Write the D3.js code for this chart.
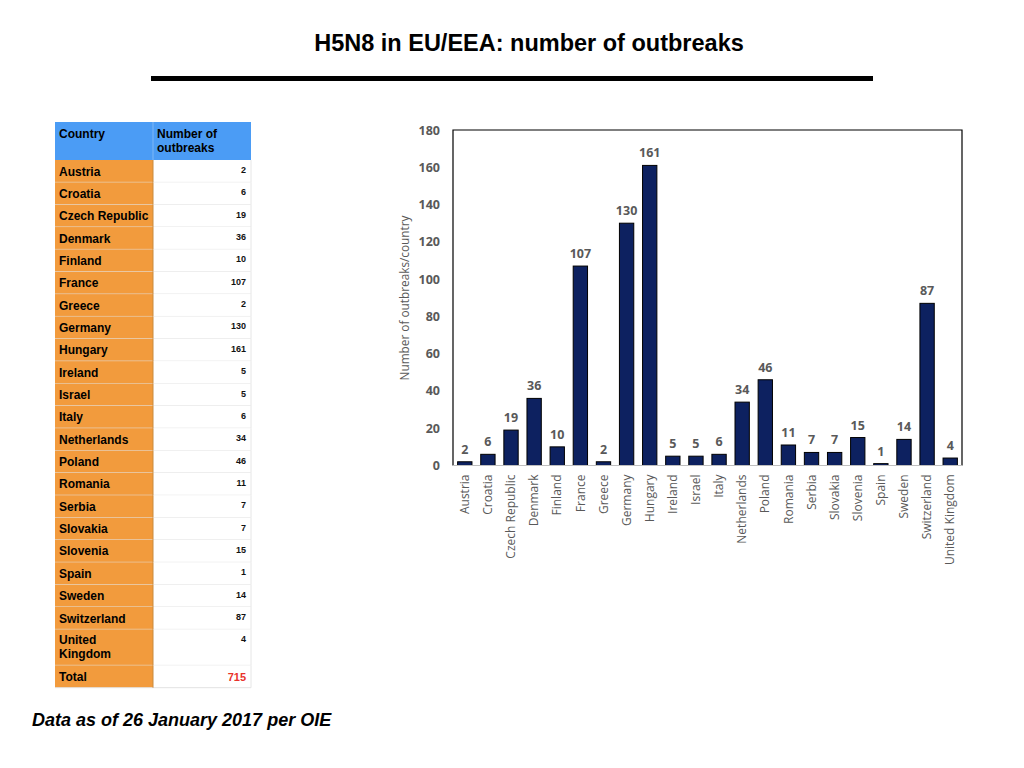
<!DOCTYPE html>
<html><head><meta charset="utf-8">
<script src="https://cdn.jsdelivr.net/npm/d3@7"></script>
<style>body{margin:0;background:#fff;} svg{display:block;}</style>
</head><body>
<svg id="c" width="1024" height="768"></svg>
<script>
const countries = ["Austria","Croatia","Czech Republic","Denmark","Finland","France","Greece","Germany","Hungary","Ireland","Israel","Italy","Netherlands","Poland","Romania","Serbia","Slovakia","Slovenia","Spain","Sweden","Switzerland","United Kingdom"];
const tableValues = [2,6,19,36,10,107,2,130,161,5,5,6,34,46,11,7,7,15,1,14,87,4];
const chartCategories = ["Austria","Croatia","Czech Republic","Denmark","Finland","France","Greece","Germany","Hungary","Ireland","Israel","Italy","Netherlands","Poland","Romania","Serbia","Slovakia","Slovenia","Spain","Sweden","Switzerland","United Kingdom"];
const chartValues = [2,6,19,36,10,107,2,130,161,5,5,6,34,46,11,7,7,15,1,14,87,4];
const yTicks = [0,20,40,60,80,100,120,140,160,180];
const totalLabel = "715";

(function(){
const svg = d3.select("#c");

// Title
svg.append("text").attr("x",529).attr("y",51).attr("text-anchor","middle")
  .attr("font-family","Liberation Sans, Arial, sans-serif").attr("font-weight","bold")
  .attr("font-size",23.5).attr("fill","#000").text("H5N8 in EU/EEA: number of outbreaks");
svg.append("rect").attr("x",151).attr("y",76).attr("width",722).attr("height",5).attr("fill","#000");

// Table
const tx0 = 55, tx1 = 153, tx2 = 251;
const headerTop = 122, headerBottom = 160;
const rowH = 22.35;
const tfont = "Liberation Sans, Arial, sans-serif";
const tg = svg.append("g");
tg.append("rect").attr("x",tx0).attr("y",headerTop).attr("width",tx2-tx0).attr("height",headerBottom-headerTop).attr("fill","#4b9cf5");
tg.append("line").attr("x1",tx1).attr("x2",tx1).attr("y1",headerTop).attr("y2",headerBottom).attr("stroke","#7fb8f7").attr("stroke-width",1);
tg.append("text").attr("x",tx0+4).attr("y",headerTop+16).attr("font-family",tfont).attr("font-weight","bold").attr("font-size",12).text("Country");
tg.append("text").attr("x",tx1+4).attr("y",headerTop+16).attr("font-family",tfont).attr("font-weight","bold").attr("font-size",12).text("Number of");
tg.append("text").attr("x",tx1+4).attr("y",headerTop+30).attr("font-family",tfont).attr("font-weight","bold").attr("font-size",12).text("outbreaks");

let yy = headerBottom;
const rows = countries.map((c,i)=>({name:c, value:String(tableValues[i]), total:false}));
rows.push({name:"Total", value:totalLabel, total:true});
rows.forEach(r=>{
  const two = r.name === "United Kingdom";
  const h = two ? 36 : rowH;
  tg.append("rect").attr("x",tx0).attr("y",yy).attr("width",tx1-tx0).attr("height",h).attr("fill","#f29b3d");
  tg.append("rect").attr("x",tx1).attr("y",yy).attr("width",tx2-tx1).attr("height",h).attr("fill","#fff");
  tg.append("line").attr("x1",tx0).attr("x2",tx2).attr("y1",yy+h).attr("y2",yy+h).attr("stroke","#e2e2e2").attr("stroke-width",1);
  tg.append("line").attr("x1",tx1).attr("x2",tx1).attr("y1",yy).attr("y2",yy+h).attr("stroke","#c98a3e").attr("stroke-width",1);
  tg.append("line").attr("x1",tx2).attr("x2",tx2).attr("y1",yy).attr("y2",yy+h).attr("stroke","#e6e6e6").attr("stroke-width",1);
  if(two){
    tg.append("text").attr("x",tx0+4).attr("y",yy+15).attr("font-family",tfont).attr("font-weight","bold").attr("font-size",12).text("United");
    tg.append("text").attr("x",tx0+4).attr("y",yy+29).attr("font-family",tfont).attr("font-weight","bold").attr("font-size",12).text("Kingdom");
  } else {
    tg.append("text").attr("x",tx0+4).attr("y",yy+15.5).attr("font-family",tfont).attr("font-weight","bold").attr("font-size",12).text(r.name);
  }
  if(r.total){
    tg.append("text").attr("x",tx2-5).attr("y",yy+15.5).attr("text-anchor","end").attr("font-family",tfont).attr("font-weight","bold").attr("font-size",11).attr("fill","#e8322b").text(r.value);
  } else {
    tg.append("text").attr("x",tx2-5).attr("y",yy+13).attr("text-anchor","end").attr("font-family",tfont).attr("font-weight","bold").attr("font-size",9).attr("fill","#111").text(r.value);
  }
  yy += h;
});

// Chart
const pLeft = 453, pRight = 962, pTop = 130, pBottom = 465.5;
const x = d3.scaleBand().domain(chartCategories).range([pLeft, pRight]).paddingInner(0.38).paddingOuter(0.2);
const yS = d3.scaleLinear().domain([0,180]).range([pBottom, pTop]);
const cfont = "Open Sans, Lato, sans-serif";
const gray = "#595959";

const cg = svg.append("g");
cg.append("path").attr("d",`M${pLeft},${pBottom}V${pTop}H${pRight}V${pBottom}`).attr("fill","none").attr("stroke","#000").attr("stroke-width",1.2);

const yAxis = d3.axisLeft(yS).tickValues(yTicks).tickSize(0).tickPadding(13);
const ya = cg.append("g").attr("transform",`translate(${pLeft},0)`).call(yAxis);
ya.select(".domain").remove();
ya.selectAll("text").attr("font-family",cfont).attr("font-weight","bold").attr("font-size",12.5).attr("fill",gray);

cg.selectAll("rect.bar").data(chartCategories).join("rect").attr("class","bar")
  .attr("x",d=>x(d)).attr("width",x.bandwidth())
  .attr("y",(d,i)=>yS(chartValues[i])).attr("height",(d,i)=>pBottom-yS(chartValues[i]))
  .attr("fill","#0d2160").attr("stroke","#000").attr("stroke-width",1);

cg.append("line").attr("x1",pLeft).attr("x2",pRight).attr("y1",pBottom).attr("y2",pBottom).attr("stroke","#bfbfbf").attr("stroke-width",1);

cg.selectAll("text.val").data(chartCategories).join("text").attr("class","val")
  .attr("x",d=>x(d)+x.bandwidth()/2).attr("y",(d,i)=>yS(chartValues[i])-8)
  .attr("text-anchor","middle").attr("font-family",cfont).attr("font-weight","bold").attr("font-size",12.5).attr("fill",gray)
  .text((d,i)=>chartValues[i]);

const xAxis = d3.axisBottom(x).tickSize(0).tickPadding(0);
const xa = cg.append("g").attr("transform",`translate(0,${pBottom})`).call(xAxis);
xa.select(".domain").remove();
xa.selectAll("text").attr("font-family",cfont).attr("font-size",12).attr("fill",gray)
  .attr("text-anchor","end").attr("dy","0.35em").attr("transform","translate(0,9) rotate(-90)").attr("x",0).attr("y",0);

svg.append("text").attr("transform","translate(409,298) rotate(-90)").attr("text-anchor","middle")
  .attr("font-family",cfont).attr("font-size",11.8).attr("fill",gray).text("Number of outbreaks/country");

svg.append("text").attr("x",32).attr("y",726).attr("font-family","Liberation Sans, Arial, sans-serif")
  .attr("font-weight","bold").attr("font-style","italic").attr("font-size",18).text("Data as of 26 January 2017 per OIE");
})();
</script>
</body></html>
